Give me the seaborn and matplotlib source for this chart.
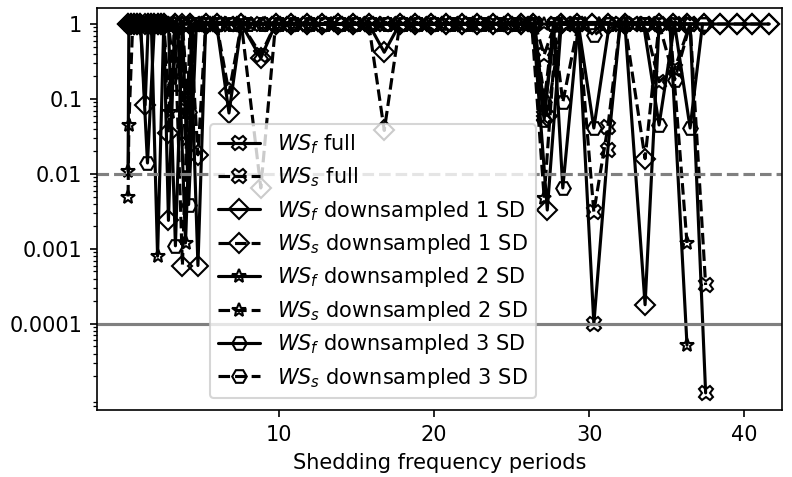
import matplotlib
matplotlib.use("Agg")
import matplotlib.pyplot as plt
import seaborn as sns
from matplotlib.ticker import FixedLocator, FixedFormatter, LogLocator, NullFormatter

# ---------------- data ----------------
full_x = [0.5, 0.8, 1.1, 1.4, 1.7, 2.0, 2.3, 2.6, 3.0, 3.5, 4.0, 4.6, 5.3, 6.0, 6.8, 7.6,
          8.85, 9.8, 10.8, 11.8, 12.8, 13.8, 14.8, 15.8, 16.8, 17.8, 18.8, 19.8, 20.8, 21.8, 22.8, 23.8,
          24.8, 25.8, 26.5, 27.1, 27.8, 28.5, 29.3, 30.3, 31.2, 32.0, 32.8, 33.6, 34.5, 35.5, 36.5, 37.5]
wsf_full = [1, 1, 1, 1, 1, 1, 1, 1, 1, 1, 1, 1, 1, 1, 1, 1,
            1, 1, 1, 1, 1, 1, 1, 1, 1, 1, 1, 1, 1, 1, 1, 1,
            1, 1, 1, 0.06, 1, 1, 1, 0.0001, 0.021, 1, 1, 1, 1, 1, 1, 1.2e-5]
wss_full = [1, 1, 1, 1, 1, 1, 1, 1, 1, 1, 0.07, 1, 1, 1, 1, 1,
            0.39, 1, 1, 1, 1, 1, 1, 1, 1, 1, 1, 1, 1, 1, 1, 1,
            1, 1, 1, 0.39, 1, 1, 1, 0.0031, 0.042, 1, 1, 1, 0.17, 0.25, 1, 3.3e-4]

sd1_x = [0.3, 0.5, 0.7, 0.9, 1.1, 1.4, 1.6, 1.8, 2.0, 2.2, 2.4, 2.6, 2.9, 3.3, 3.8, 4.3,
         4.8, 5.3, 6.0, 6.8, 7.6, 8.85, 9.8, 10.8, 11.8, 12.8, 13.8, 14.8, 15.8, 16.8, 17.8, 18.8,
         19.8, 20.8, 21.8, 22.8, 23.8, 24.8, 25.6, 26.4, 27.3, 28.2, 29.2, 30.2, 31.2, 32.3, 33.6, 34.5,
         35.4, 36.3, 37.4, 38.4, 39.5, 40.5, 41.6]
wsf_sd1 = [1, 1, 1, 1, 1, 0.083, 1, 1, 1, 1, 1, 1, 0.0024, 1, 1, 1,
           0.0006, 1, 1, 0.065, 1, 0.35, 1, 1, 1, 1, 1, 1, 1, 0.42, 1, 1,
           1, 1, 1, 1, 1, 1, 1, 1, 0.0033, 1, 1, 1, 1, 1, 0.00018, 1,
           1, 1, 1, 1, 1, 1, 1]
wss_sd1 = [1, 1, 1, 1, 1, 1, 1, 1, 1, 1, 1, 1, 0.035, 1, 0.0006, 1,
           0.018, 1, 1, 0.12, 1, 0.0065, 1, 1, 1, 1, 1, 1, 1, 0.038, 1, 1,
           1, 1, 1, 1, 1, 1, 1, 1, 0.06, 1, 1, 1, 1, 1, 0.016, 1,
           1, 1, 1, 1, 1, 1, 1]

sd2_x = [0.3, 0.35, 0.6, 0.9, 1.2, 1.5, 1.8, 2.2, 2.6, 3.0, 3.5, 4.0, 4.5, 5.0, 5.8, 6.6,
         7.4, 8.2, 9.0, 10.0, 11.0, 12.0, 13.4, 14.5, 15.5, 16.5, 17.5, 18.5, 19.5, 20.5, 21.5, 22.5,
         23.5, 24.5, 25.5, 26.3, 27.1, 27.9, 28.8, 29.7, 30.6, 31.5, 32.4, 33.3, 34.2, 35.2, 36.3]
wsf_sd2 = [0.011, 1, 1, 1, 1, 1, 1, 0.0008, 1, 1, 1, 0.0012, 1, 1, 1, 1,
           1, 1, 1, 1, 1, 1, 1, 1, 1, 1, 1, 1, 1, 1, 1, 1,
           1, 1, 1, 1, 1, 1, 1, 1, 1, 1, 1, 1, 1, 1, 5.2e-5]
wss_sd2 = [0.005, 0.045, 1, 1, 1, 1, 1, 1, 1, 0.067, 1, 0.028, 1, 1, 1, 1,
           1, 1, 1, 1, 1, 1, 1, 1, 1, 1, 1, 1, 1, 1, 1, 1,
           1, 1, 1, 1, 0.0048, 1, 1, 1, 1, 1, 1, 1, 1, 1, 0.0012]

sd3_x = [0.3, 0.7, 1.1, 1.55, 2.0, 2.5, 2.9, 3.35, 3.8, 4.2, 4.7, 5.3, 6.1, 7.0, 8.0, 9.0,
         10.0, 11.0, 12.0, 13.0, 14.0, 15.0, 16.0, 17.0, 18.0, 19.0, 20.0, 21.1, 22.1, 23.1, 24.2, 25.3,
         26.3, 27.1, 27.7, 28.3, 29.3, 30.3, 31.3, 32.4, 33.5, 34.5, 35.5, 36.5, 37.3]
wsf_sd3 = [1, 1, 1, 0.014, 1, 1, 1, 0.0011, 1, 0.0039, 1, 1, 1, 1, 1, 1,
           1, 1, 1, 1, 1, 1, 1, 1, 1, 1, 1, 1, 1, 1, 1, 1,
           1, 0.053, 1, 0.0065, 1, 0.041, 1, 1, 1, 0.045, 1, 0.041, 1]
wss_sd3 = [1, 1, 1, 1, 1, 1, 1, 0.16, 1, 0.067, 1, 1, 1, 1, 1, 1,
           1, 1, 1, 1, 1, 1, 1, 1, 1, 1, 1, 1, 1, 1, 1, 1,
           1, 0.09, 1, 0.09, 1, 0.71, 1, 1, 1, 1, 0.18, 1, 1]

labels = [r"$WS_f$ full", r"$WS_s$ full",
          r"$WS_f$ downsampled 1 SD", r"$WS_s$ downsampled 1 SD",
          r"$WS_f$ downsampled 2 SD", r"$WS_s$ downsampled 2 SD",
          r"$WS_f$ downsampled 3 SD", r"$WS_s$ downsampled 3 SD"]
ytick_vals = [1, 0.1, 0.01, 0.001, 0.0001]
ytick_labels = ["1", "0.1", "0.01", "0.001", "0.0001"]
xtick_vals = [10, 20, 30, 40]
thresholds = [0.01, 0.0001]

# ---------------- style ----------------
sns.set_theme(style="ticks")
plt.rcParams["font.family"] = ["DejaVu Sans"]
plt.rcParams.update({
    "font.size": 10, "axes.labelsize": 10, "xtick.labelsize": 10, "ytick.labelsize": 10,
    "legend.fontsize": 10, "axes.edgecolor": "black", "axes.linewidth": 0.8,
    "xtick.color": "black", "ytick.color": "black", "text.color": "black",
    "axes.labelcolor": "black",
    "xtick.major.size": 3.5, "ytick.major.size": 3.5, "xtick.minor.size": 2, "ytick.minor.size": 2,
    "xtick.major.width": 0.8, "ytick.major.width": 0.8, "xtick.minor.width": 0.6, "ytick.minor.width": 0.6,
    "mathtext.fontset": "dejavusans",
})

fig, ax = plt.subplots(figsize=(5.28, 3.18), dpi=150)
fig.subplots_adjust(left=0.1225, right=0.987, bottom=0.1405, top=0.983)

series = [
    (full_x, wsf_full, "X", "-"), (full_x, wss_full, "X", "--"),
    (sd1_x, wsf_sd1, "D", "-"), (sd1_x, wss_sd1, "D", "--"),
    (sd2_x, wsf_sd2, "*", "-"), (sd2_x, wss_sd2, "*", "--"),
    (sd3_x, wsf_sd3, "H", "-"), (sd3_x, wss_sd3, "H", "--"),
]
for (x, y, m, ls), lab in zip(series, labels):
    sns.lineplot(x=x, y=y, ax=ax, color="black", marker=m, linestyle=ls, linewidth=1.5,
                 markersize=7, markerfacecolor="none", markeredgecolor="black",
                 markeredgewidth=1.0, label=lab, estimator=None, sort=False)

ax.axhline(thresholds[0], color="0.5", linestyle="--", linewidth=1.5)
ax.axhline(thresholds[1], color="0.5", linestyle="-", linewidth=1.5)

ax.set_yscale("log")
ax.set_ylim(7.1e-6, 1.63)
ax.set_xlim(-1.7, 42.4)
ax.yaxis.set_major_locator(FixedLocator(ytick_vals))
ax.yaxis.set_major_formatter(FixedFormatter(ytick_labels))
ax.yaxis.set_minor_locator(LogLocator(base=10, subs=[2, 3, 4, 5, 6, 7, 8, 9], numticks=20))
ax.yaxis.set_minor_formatter(NullFormatter())
ax.set_xticks(xtick_vals)
ax.set_xlabel("Shedding frequency periods")
ax.set_ylabel("")
for s in ax.spines.values():
    s.set_visible(True)

ax.legend(loc="lower left", bbox_to_anchor=(0.165, 0.03), borderaxespad=0.0,
          labelspacing=0.45, framealpha=0.8, edgecolor="0.8", fancybox=True)

fig.savefig("out.png", dpi=150)
